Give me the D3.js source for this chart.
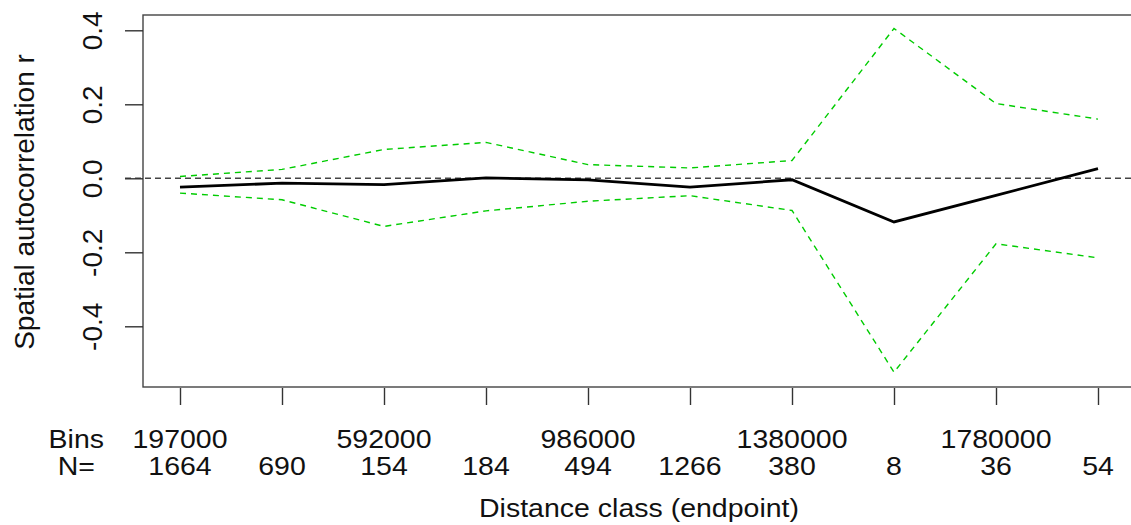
<!DOCTYPE html>
<html lang="en">
<head>
  <meta charset="UTF-8">
  <title>Correlogram</title>
  <script src="https://d3js.org/d3.v7.min.js"></script>
  <style>
    body { margin: 0; background: #fff; }
    text { font-family: "Liberation Sans", Arial, sans-serif; fill: #111; }
  </style>
</head>
<body>
  <svg id="svg1" width="1131" height="525"></svg>
  <script>
    // distance classes and values
    const classes = [1, 2, 3, 4, 5, 6, 7, 8, 9, 10];
    const corr  = [-0.024, -0.013, -0.017, 0.001, -0.004, -0.024, -0.004, -0.118, -0.046, 0.026];
    const upper = [0.005, 0.024, 0.078, 0.097, 0.037, 0.028, 0.048, 0.405, 0.202, 0.160];
    const lower = [-0.040, -0.058, -0.130, -0.088, -0.062, -0.047, -0.087, -0.524, -0.177, -0.215];
    const binLabels = ["197000", "", "592000", "", "986000", "", "1380000", "", "1780000", ""];
    const nLabels = ["1664", "690", "154", "184", "494", "1266", "380", "8", "36", "54"];
    const yTicks = [-0.4, -0.2, 0.0, 0.2, 0.4];

    let svg1 = d3.select("svg#svg1");
    let box = {left: 143, top: 15, right: 1134, bottom: 387};

    const xScale = d3.scaleLinear().domain([1, 10]).range([180, 1098]);
    const yScale = d3.scaleLinear().domain([-0.4, 0.4]).range([326.3, 30.3]);

    // zero reference line
    svg1.append("line")
        .attr("x1", 125).attr("x2", box.right)
        .attr("y1", yScale(0)).attr("y2", yScale(0))
        .attr("stroke", "#444")
        .attr("stroke-width", 1.4)
        .attr("stroke-dasharray", "6,4");

    // confidence envelope
    let lineGen = (vals) => d3.line()
        .x((d, i) => xScale(classes[i]))
        .y(d => yScale(d))(vals);

    [upper, lower].forEach(vals => {
      svg1.append("path")
          .attr("d", lineGen(vals))
          .attr("fill", "none")
          .attr("stroke", "#00cc00")
          .attr("stroke-width", 1.4)
          .attr("stroke-dasharray", "6,5");
    });

    svg1.append("path")
        .attr("d", lineGen(corr))
        .attr("fill", "none")
        .attr("stroke", "#000")
        .attr("stroke-width", 2.8);

    // plot box
    svg1.append("rect")
        .attr("x", box.left).attr("y", box.top)
        .attr("width", box.right - box.left)
        .attr("height", box.bottom - box.top)
        .attr("fill", "none")
        .attr("stroke", "#444")
        .attr("stroke-width", 1.4);

    // y axis with rotated labels (plain hyphen for minus, like R)
    let leftAxis = d3.axisLeft(yScale).tickValues(yTicks).tickSize(18).tickPadding(0)
        .tickFormat(d => d.toFixed(1));
    let yAxisG = svg1.append("g")
        .attr("transform", `translate(${box.left},0)`)
        .call(leftAxis);
    yAxisG.select(".domain").remove();
    yAxisG.selectAll(".tick line").attr("stroke", "#333").attr("stroke-width", 1.4);
    yAxisG.selectAll(".tick text")
        .attr("transform", "rotate(-90)")
        .attr("x", 0).attr("y", -41).attr("dy", 0)
        .attr("text-anchor", "middle")
        .style("font-size", "28px")
        .attr("fill", "#111");

    // x axis ticks only
    let bottomAxis = d3.axisBottom(xScale).tickValues(classes).tickSize(17).tickFormat("");
    let xAxisG = svg1.append("g")
        .attr("transform", `translate(0,${box.bottom + 1})`)
        .call(bottomAxis);
    xAxisG.select(".domain").remove();
    xAxisG.selectAll(".tick line").attr("stroke", "#333").attr("stroke-width", 1.4);

    // horizontal text helper (picture is slightly squashed vertically)
    function hText(x, y, str, anchor) {
      svg1.append("text")
          .attr("transform", `translate(${x},${y}) scale(1,0.9)`)
          .attr("text-anchor", anchor)
          .style("font-size", "28.5px")
          .text(str);
    }

    hText(104, 448, "Bins", "end");
    hText(95, 475, "N=", "end");
    classes.forEach((c, i) => {
      if (binLabels[i]) hText(xScale(c), 448, binLabels[i], "middle");
      hText(xScale(c), 475, nLabels[i], "middle");
    });

    hText(639, 517, "Distance class (endpoint)", "middle");

    svg1.append("text")
        .attr("transform", "translate(34,202) rotate(-90)")
        .attr("text-anchor", "middle")
        .style("font-size", "28px")
        .text("Spatial autocorrelation r");
  </script>
</body>
</html>
